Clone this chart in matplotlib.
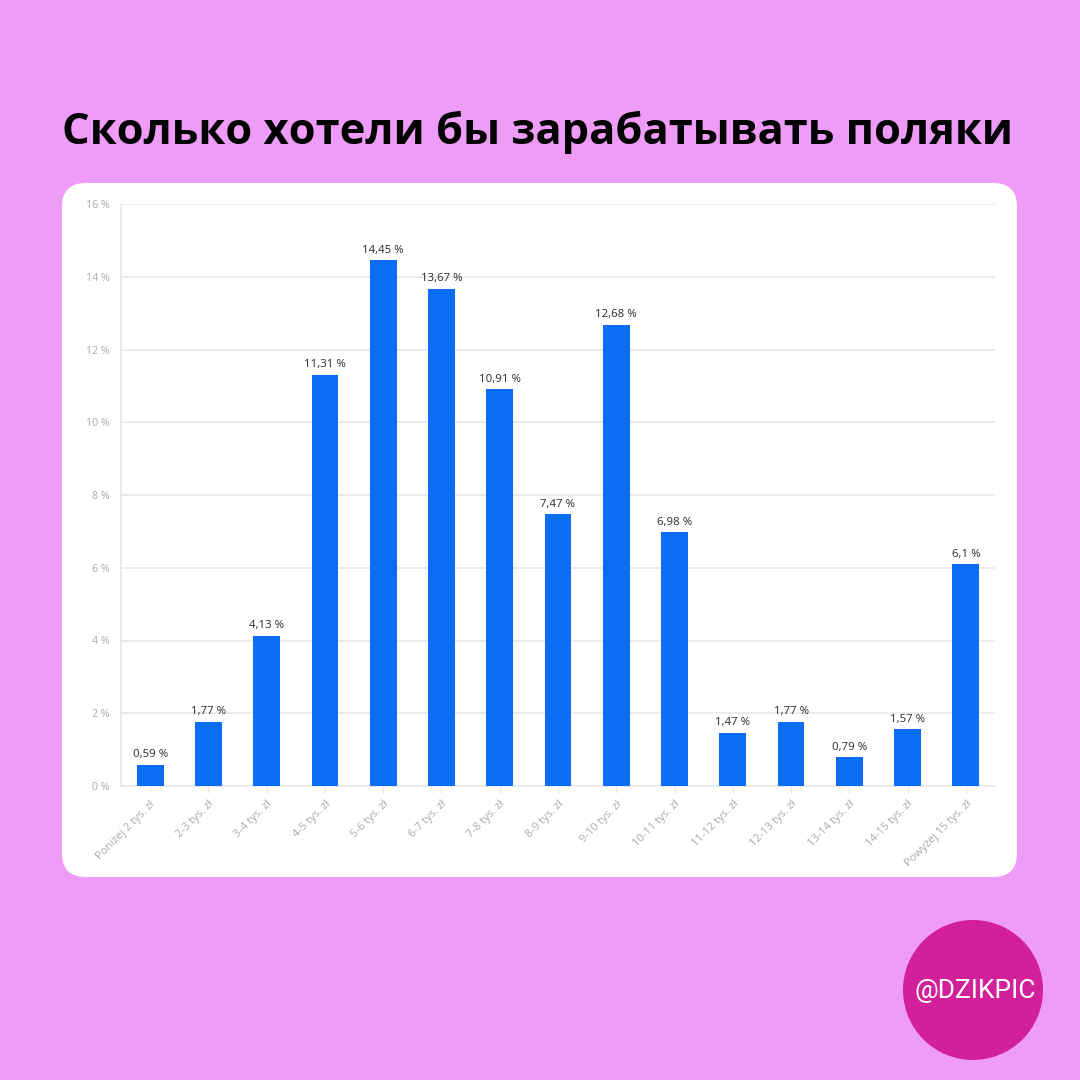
import matplotlib
matplotlib.use("Agg")
import matplotlib.pyplot as plt
from matplotlib.patches import FancyBboxPatch, Circle

categories = ["Poniżej 2 tys. zł", "2-3 tys. zł", "3-4 tys. zł", "4-5 tys. zł", "5-6 tys. zł",
              "6-7 tys. zł", "7-8 tys. zł", "8-9 tys. zł", "9-10 tys. zł", "10-11 tys. zł",
              "11-12 tys. zł", "12-13 tys. zł", "13-14 tys. zł", "14-15 tys. zł", "Powyżej 15 tys. zł"]
values = [0.59, 1.77, 4.13, 11.31, 14.45, 13.67, 10.91, 7.47, 12.68, 6.98, 1.47, 1.77, 0.79, 1.57, 6.1]
value_labels = ["0,59 %", "1,77 %", "4,13 %", "11,31 %", "14,45 %", "13,67 %", "10,91 %", "7,47 %",
                "12,68 %", "6,98 %", "1,47 %", "1,77 %", "0,79 %", "1,57 %", "6,1 %"]
yticks = [0, 2, 4, 6, 8, 10, 12, 14, 16]
ytick_labels = ["0 %", "2 %", "4 %", "6 %", "8 %", "10 %", "12 %", "14 %", "16 %"]
title = "Сколько хотели бы зарабатывать поляки"
watermark = "@DZIKPIC"

W = H = 1080
fig = plt.figure(figsize=(10.8, 10.8), dpi=100)
bg = "#EF9CF8"
fig.patch.set_facecolor(bg)

def fx(px): return px / W
def fy(py): return 1 - py / H

# card
card = FancyBboxPatch((fx(62), fy(877)), fx(1017) - fx(62), fy(183) - fy(877),
                      boxstyle="round,pad=0,rounding_size=0.022",
                      transform=fig.transFigure, facecolor="white", edgecolor="none", zorder=-5)
fig.patches.append(card)

# title
fig.text(fx(62), fy(132), title, fontsize=31.3, fontweight="bold", color="black",
         ha="left", va="center", family=["Open Sans", "DejaVu Sans"])

# axes
ax = fig.add_axes([fx(121), fy(786), fx(995) - fx(121), fy(204) - fy(786)], zorder=2)
ax.set_facecolor("none")
x = list(range(len(categories)))
bars = ax.bar(x, values, width=0.46, color="#0B6CF5", zorder=3)
for xi, v, lab in zip(x, values, value_labels):
    ax.text(xi, v + 0.12, lab, ha="center", va="bottom", fontsize=8.2, color="#2A2A2A",
            family=["Open Sans", "DejaVu Sans"])
ax.set_xlim(-0.5, len(categories) - 0.5)
ax.set_ylim(0, 16)
ax.set_yticks(yticks)
ax.set_yticklabels(ytick_labels, fontsize=7.7, color="#AAAAAA", family=["Open Sans", "DejaVu Sans"])
ax.set_xticks(x)
ax.set_xticklabels(categories, rotation=45, ha="right", rotation_mode="anchor", fontsize=8,
                   color="#AAAAAA", family=["Open Sans", "DejaVu Sans"])
ax.grid(axis="y", color="#E8E8E8", linewidth=1.2, zorder=0)
for s in ["top", "right"]:
    ax.spines[s].set_visible(False)
ax.spines["left"].set_color("#E8E8E8")
ax.spines["bottom"].set_color("#E8E8E8")
ax.spines["left"].set_linewidth(1.2)
ax.spines["bottom"].set_linewidth(1.2)
ax.tick_params(axis="y", length=0, pad=8)
ax.tick_params(axis="x", length=5, color="#E8E8E8", pad=4)

# watermark circle
circ = Circle((fx(973), fy(990)), fx(70), transform=fig.transFigure,
              facecolor="#D2209B", edgecolor="none", zorder=-5)
fig.patches.append(circ)
fig.text(fx(975), fy(991), watermark, fontsize=19, color="white", ha="center", va="center",
         family=["Roboto", "DejaVu Sans"])

fig.savefig("out.png", dpi=100, facecolor=bg)
